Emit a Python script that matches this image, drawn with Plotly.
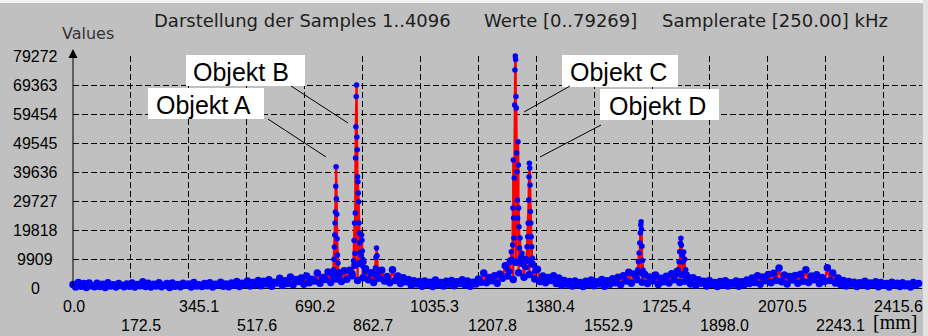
import numpy as np
import plotly.graph_objects as go

# ---------------- data ----------------
title_parts = ["Darstellung der Samples 1..4096", "Werte [0..79269]", "Samplerate [250.00] kHz"]
y_axis_title = "Values"
x_unit = "[mm]"

x_tick_values = [0.0, 172.5, 345.1, 517.6, 690.2, 862.7, 1035.3, 1207.8, 1380.4,
                 1552.9, 1725.4, 1898.0, 2070.5, 2243.1, 2415.6]
x_tick_labels = ["0.0", "172.5", "345.1", "517.6", "690.2", "862.7", "1035.3", "1207.8",
                 "1380.4", "1552.9", "1725.4", "1898.0", "2070.5", "2243.1", "2415.6"]
y_tick_values = [0, 9909, 19818, 29727, 39636, 49545, 59454, 69363, 79272]

# background signal, one reading every 8 mm (0 .. 2520 mm)
noise_step_mm = 8
noise_values = [
    1200, 300, 1900, 600, 1500, 200, 1700, 800, 400, 1600,
    500, 1300, 200, 1800, 700, 1100, 300, 1500, 900, 400,
    1400, 600, 1700, 300, 1200, 800, 2100, 500, 1600, 300,
    1300, 700, 1800, 400, 1000, 1500, 200, 1700, 600, 1200,
    400, 1600, 900, 1400, 300, 1900, 700, 1100, 500, 1500,
    800, 1800, 300, 1300, 1000, 2000, 600, 1400, 400, 1700,
    900, 2200, 500, 1600, 1200, 2400, 700, 1900, 1100, 2600,
    800, 2300, 1400, 2800, 600, 2000, 1700, 3300, 900, 2500,
    1500, 3800, 1100, 2900, 2200, 3400, 1300, 4100, 1800, 3000,
    2400, 5100, 1600, 3600, 2900, 5500, 1900, 4300, 3100, 4800,
    2200, 5900, 3000, 6100, 4200, 7800, 2600, 8400, 3500, 6600,
    2800, 5200, 1900, 4400, 3300, 6100, 2400, 3900, 1800, 6200,
    2600, 4100, 1500, 3500, 2100, 2900, 900, 2500, 1400, 2200,
    600, 2400, 1200, 2000, 500, 2700, 1100, 1900, 700, 2300,
    1300, 2600, 800, 2100, 1500, 2800, 1000, 2400, 600, 2000,
    1400, 3100, 2000, 5100, 1800, 3600, 2500, 4200, 1600, 4800,
    3300, 7600, 4100, 9200, 2900, 8800, 5200, 10200, 3700, 9400,
    4600, 8200, 3100, 6400, 2200, 4100, 1800, 3600, 2600, 4200,
    1500, 3400, 900, 2600, 1300, 2200, 700, 2400, 1100, 1900,
    500, 2300, 1200, 2700, 800, 2100, 1400, 2900, 600, 2500,
    1300, 3200, 1800, 3700, 1100, 4200, 2400, 5400, 1600, 4800,
    2900, 5200, 2000, 4600, 1500, 3800, 2500, 4400, 1200, 3300,
    2100, 4000, 1700, 4900, 2800, 5600, 1900, 4500, 2300, 3700,
    1400, 3500, 900, 2800, 1600, 2300, 700, 2600, 1200, 1900,
    500, 2200, 1000, 2500, 700, 1800, 1300, 2400, 600, 2100,
    1100, 2700, 1500, 3400, 1900, 4200, 1300, 3800, 2500, 4600,
    1800, 5000, 2600, 6800, 2100, 4400, 1400, 3900, 2700, 4300,
    1600, 4700, 2300, 6200, 1900, 4100, 2800, 4500, 1500, 3600,
    2200, 6900, 2600, 5100, 1700, 3400, 1100, 2600, 700, 2200,
    1300, 2000, 500, 1800, 1000, 2300, 600, 1700, 1200, 2100,
    400, 1900, 900, 1500, 300, 2000, 1100, 1600, 500, 1800,
    800, 1400, 300, 1900, 1000, 1500,
]
noise_x = [i * noise_step_mm for i in range(len(noise_values))]

# Objekt A
peak_a_x = [776, 777.5, 779, 780, 781, 782, 783, 784, 785, 786, 787, 788, 789.5, 791, 793]
peak_a_v = [6200, 9800, 14000, 18100, 22200, 26000, 34800, 41400, 30500, 25200, 16800, 11300, 8500, 5600, 3900]

# Objekt B
peak_b_x = [834, 836, 837.5, 839, 840, 841, 842, 843, 844, 845, 846, 847, 848, 849, 850, 851, 852,
            853, 854, 855.5, 857, 858.5, 860, 861, 862, 863.5, 865, 867, 869,
            901, 903, 904.5, 906, 908]
peak_b_v = [5100, 9300, 16200, 22200, 11800, 25600, 44400, 55100, 65400, 69400, 51600, 47200, 38000,
            36300, 32500, 29500, 22200, 18800, 15400, 12000, 8500, 11200, 18100, 16300, 12600, 9800,
            7300, 8900, 5400,
            6800, 10500, 13700, 11000, 6400]

# Objekt C
peak_c_x = [1296, 1300, 1303, 1306, 1308, 1310, 1311, 1312, 1313, 1314, 1315, 1316, 1317, 1318, 1319,
            1320, 1321, 1322, 1323, 1324, 1325, 1326, 1327, 1328, 1329, 1330.5, 1332, 1334, 1336, 1338]
peak_c_v = [6100, 8800, 5600, 12400, 9800, 14700, 27300, 43700, 23900, 17100, 37600, 62500, 74500,
            79269, 78100, 65400, 61500, 46100, 39700, 30100, 23900, 50000, 42000, 27300, 20900,
            13700, 17100, 10200, 8100, 11900]

# Objekt D
peak_d_x = [1345, 1348, 1351, 1353, 1355, 1356.5, 1358, 1359, 1360, 1361, 1362, 1363, 1364, 1365.5,
            1367, 1369, 1372, 1376]
peak_d_v = [7400, 10200, 6900, 14100, 17500, 22200, 30100, 38000, 42600, 41000, 35200, 26100, 22200,
            17500, 14100, 10200, 7800, 5900]

# further echoes
peak_e_x = [1680, 1683, 1685, 1687, 1689, 1690.5, 1692, 1693, 1694, 1695.5, 1697, 1699, 1702]
peak_e_v = [4900, 6200, 9000, 12000, 15400, 18800, 21500, 22600, 20100, 14300, 9400, 6100, 4200]
peak_f_x = [1800, 1803, 1806, 1808, 1810, 1811.5, 1813, 1815, 1817, 1820, 1823, 1826, 1830]
peak_f_v = [4600, 6200, 9000, 12400, 15300, 17000, 14600, 11200, 8900, 12300, 9800, 6200, 4700]

labels = ["Objekt A", "Objekt B", "Objekt C", "Objekt D"]

# ---------------- assemble ----------------
peak_x = peak_a_x + peak_b_x + peak_c_x + peak_d_x + peak_e_x + peak_f_x
peak_v = peak_a_v + peak_b_v + peak_c_v + peak_d_v + peak_e_v + peak_f_v
all_x = np.array(noise_x + peak_x, dtype=float)
all_v = np.array(noise_values + peak_v, dtype=float)
all_size = np.array([7.5] * len(noise_x) + [5.5] * len(peak_x))
order = np.argsort(all_x, kind="stable")
sx, sv, ss = all_x[order], all_v[order], all_size[order]

# ---------------- geometry helpers (pixels -> paper) ----------------
L, R, T, B = 73, 6, 56, 48
W, H = 928, 336
PW, PH = W - L - R, H - T - B


def px(xp):
    return (xp - L) / PW


def py(yp):
    return (H - B - yp) / PH


fig = go.Figure()
fig.add_trace(go.Scatter(x=sx, y=sv, mode="lines", line=dict(color="#ff0000", width=2.4),
                         cliponaxis=False, hoverinfo="skip"))
fig.add_trace(go.Scatter(x=sx, y=sv, mode="markers",
                         marker=dict(color="#0000ff", size=ss, opacity=1, line=dict(width=0)),
                         cliponaxis=False))
fig.add_trace(go.Scatter(x=sx[::4], y=sv[::4], mode="markers",
                         marker=dict(color="#000050", size=1.4, opacity=1, line=dict(width=0)),
                         cliponaxis=False, hoverinfo="skip"))

shapes = []
annotations = []

# image frame details
shapes.append(dict(type="rect", xref="paper", yref="paper", x0=px(0), x1=px(W), y0=py(0), y1=py(3),
                   fillcolor="#f4f4f4", line=dict(width=0), layer="below"))
shapes.append(dict(type="rect", xref="paper", yref="paper", x0=px(923), x1=px(W), y0=py(H), y1=py(0),
                   fillcolor="#e2e2e2", line=dict(width=0), layer="below"))

# label boxes, texts and leader lines (pixel layout)
boxes = [(148, 264, 88, 119, 154), (186, 305, 55, 86, 191), (562, 678, 55, 87, 568), (600, 719, 89, 120, 607)]
leaders = [((268, 119), (326, 157)), ((291, 86), (348, 123)), ((570, 86), (524, 112)), ((601, 125), (540, 157))]
for lab, (x0, x1, y0, y1, tx), ((lx0, ly0), (lx1, ly1)) in zip(labels, boxes, leaders):
    shapes.append(dict(type="rect", xref="paper", yref="paper", x0=px(x0), x1=px(x1), y0=py(y1), y1=py(y0),
                       fillcolor="#ffffff", line=dict(width=0)))
    shapes.append(dict(type="line", xref="paper", yref="paper", x0=px(lx0), y0=py(ly0), x1=px(lx1), y1=py(ly1),
                       line=dict(color="#000000", width=1)))
    annotations.append(dict(text=lab, xref="paper", yref="paper", x=px(tx), y=py((y0 + y1) / 2 + 1),
                            xanchor="left", yanchor="middle", showarrow=False,
                            font=dict(family="Liberation Sans, Arial", size=25, color="#000000")))

# y axis with arrow
annotations.append(dict(x=0, y=py(49), xref="x", yref="paper", ax=0, ay=239, axref="pixel", ayref="pixel",
                        text="", showarrow=True, arrowhead=2, arrowsize=1.8, arrowwidth=1,
                        arrowcolor="#000000", standoff=0))

# title pieces
for part, xl in zip(title_parts, [152, 482, 660]):
    annotations.append(dict(text=part, xref="paper", yref="paper", x=px(xl), y=py(21),
                            xanchor="left", yanchor="middle", showarrow=False,
                            font=dict(family="DejaVu Sans", size=18, color="#1e1e1e")))
annotations.append(dict(text=y_axis_title, xref="paper", yref="paper", x=px(60), y=py(34),
                        xanchor="left", yanchor="middle", showarrow=False,
                        font=dict(family="DejaVu Sans", size=16, color="#333333")))

# y tick labels
for v in y_tick_values:
    annotations.append(dict(text=str(v), xref="paper", yref="y", x=px(35), y=v,
                            xanchor="center", yanchor="middle", showarrow=False,
                            font=dict(family="Liberation Sans, Arial", size=16, color="#000000")))
# x tick labels in two rows
for i, (v, lab) in enumerate(zip(x_tick_values, x_tick_labels)):
    annotations.append(dict(text=lab, xref="x", yref="paper", x=v, y=py(306 if i % 2 == 0 else 325),
                            xanchor="left", xshift=-12, yanchor="middle", showarrow=False,
                            font=dict(family="Liberation Sans, Arial", size=16, color="#000000")))
annotations.append(dict(text=x_unit, xref="paper", yref="paper", x=px(895), y=py(335),
                        xanchor="center", yanchor="bottom", showarrow=False,
                        font=dict(family="Liberation Serif, Times New Roman", size=20, color="#000000")))

fig.update_layout(
    width=W, height=H, margin=dict(l=L, r=R, t=T, b=B, pad=0),
    paper_bgcolor="#c0c0c0", plot_bgcolor="#c0c0c0",
    showlegend=False, shapes=shapes, annotations=annotations,
    xaxis=dict(range=[0, 2530], tickvals=x_tick_values, showticklabels=False, ticks="",
               showgrid=True, gridcolor="#000000", gridwidth=1, griddash="6px,3px",
               zeroline=False, showline=True, linecolor="#000000", linewidth=1, layer="below traces",
               fixedrange=True),
    yaxis=dict(range=[0, 79272], tickvals=y_tick_values, showticklabels=False, ticks="",
               showgrid=True, gridcolor="#000000", gridwidth=1, griddash="6px,3px",
               zeroline=False, showline=False, fixedrange=True),
)

fig.write_html("out.html")
